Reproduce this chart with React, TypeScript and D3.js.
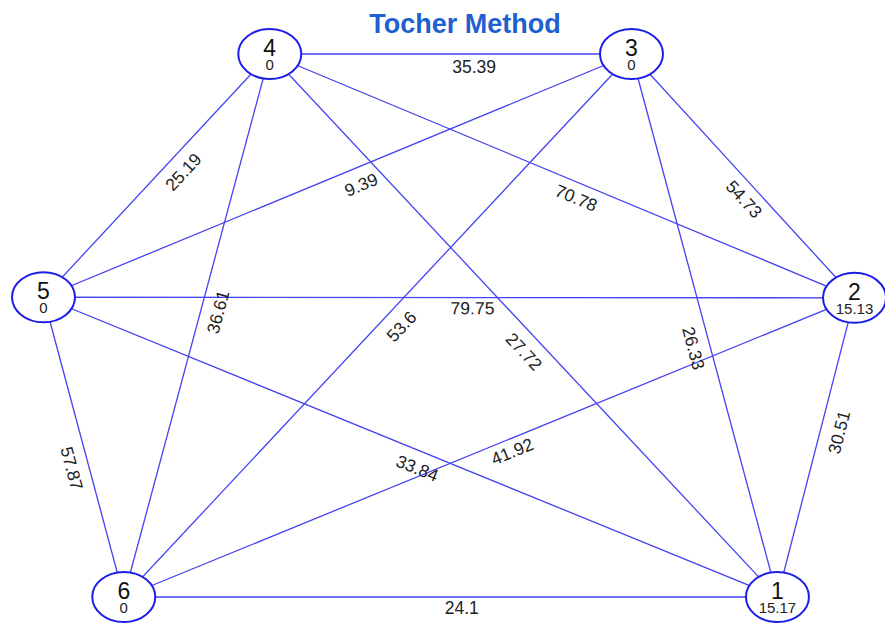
import React from "react";
import * as d3 from "d3";

// ---- data ----
const nodeIds = ["1", "2", "3", "4", "5", "6"];
const nodeValues = ["15.17", "15.13", "0", "0", "0", "0"];
// layout of the nodes in normalised units (0..1)
const layoutX = [0.905, 1.0, 0.725, 0.279, 0.0, 0.099];
const layoutY = [1.0, 0.449, 0.0, 0.0, 0.448, 1.0];

const edgeFrom = ["4", "5", "5", "6", "6", "4", "3", "5", "4", "3", "1", "5", "5", "6", "6"];
const edgeTo = ["3", "4", "3", "4", "3", "2", "2", "2", "1", "1", "2", "6", "1", "2", "1"];
const edgeWeights = [35.39, 25.19, 9.39, 36.61, 53.6, 70.78, 54.73, 79.75, 27.72, 26.33, 30.51, 57.87, 33.84, 41.92, 24.1];

// label placement along each edge (fraction) and perpendicular offset
const labelT = [0.565, 0.563, 0.529, 0.533, 0.521, 0.534, 0.554, 0.529, 0.526, 0.534, 0.566, 0.556, 0.518, 0.525, 0.517];
const labelOffset = [13, 17, 17.5, 17, 18, 15, 15, 10.5, 17.5, 16.5, 18.5, 17, 17, 12.5, 11];

const title = "Tocher Method";

const W = 885;
const H = 626;

export default function App() {
  const x = d3.scaleLinear().domain([0, 1]).range([43.5, 854.5]);
  const y = d3.scaleLinear().domain([0, 1]).range([54, 597]);
  const pos = new Map<string, [number, number]>();
  nodeIds.forEach((id, i) => pos.set(id, [x(layoutX[i]), y(layoutY[i])]));

  const rx = 31.5;
  const ry = 25;
  const font = "'Liberation Sans', Arial, Helvetica, sans-serif";

  const edges = edgeFrom.map((f, i) => {
    const a = pos.get(f)!;
    const b = pos.get(edgeTo[i])!;
    const dx = b[0] - a[0];
    const dy = b[1] - a[1];
    const ang = (Math.atan2(dy, dx) * 180) / Math.PI;
    const t = labelT[i];
    const px = a[0] + t * dx;
    const py = a[1] + t * dy;
    return { a, b, ang, px, py, w: edgeWeights[i], off: labelOffset[i] };
  });

  return (
    <svg
      width={W}
      height={H}
      style={{ position: "absolute", left: 0, top: 0, background: "#fff" }}
      fontFamily={font}
    >
      <rect width={W} height={H} fill="#fff" />
      <text
        x={465}
        y={33}
        textAnchor="middle"
        fontSize={27}
        fontWeight="bold"
        fill="#1f5fcf"
      >
        {title}
      </text>
      <g>
        {edges.map((e, i) => (
          <line
            key={"l" + i}
            x1={e.a[0]}
            y1={e.a[1]}
            x2={e.b[0]}
            y2={e.b[1]}
            stroke="#4343f2"
            strokeWidth={1.3}
          />
        ))}
      </g>
      <g>
        {edges.map((e, i) => (
          <text
            key={"t" + i}
            transform={`translate(${e.px},${e.py}) rotate(${e.ang})`}
            y={e.off}
            dy="0.35em"
            textAnchor="middle"
            fontSize={17.5}
            fill="#222"
          >
            {String(e.w)}
          </text>
        ))}
      </g>
      <g>
        {nodeIds.map((id, i) => {
          const [cx, cy] = pos.get(id)!;
          return (
            <g key={"n" + id}>
              <ellipse cx={cx} cy={cy} rx={rx} ry={ry} fill="#fff" stroke="#1d1de8" strokeWidth={2} />
              <text x={cx} y={cy + 2} textAnchor="middle" fontSize={23} fill="#111">
                {id}
              </text>
              <text x={cx} y={cy + 16} textAnchor="middle" fontSize={15} fill="#222">
                {nodeValues[i]}
              </text>
            </g>
          );
        })}
      </g>
    </svg>
  );
}
